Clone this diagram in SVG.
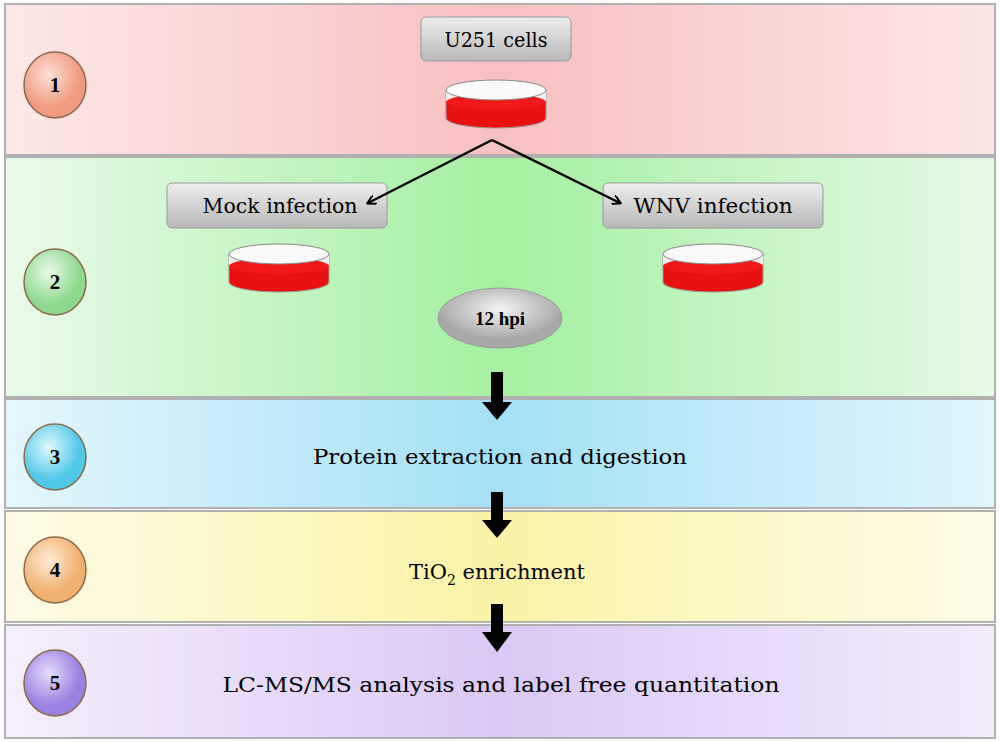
<svg xmlns="http://www.w3.org/2000/svg" width="1000" height="742" viewBox="0 0 1000 742">
<defs>
<linearGradient id="g1" x1="0" x2="1"><stop offset="0" stop-color="#fde8e8"/><stop offset="0.5" stop-color="#f8c0c0"/><stop offset="1" stop-color="#fde6e6"/></linearGradient>
<linearGradient id="g2" x1="0" x2="1"><stop offset="0" stop-color="#eafbea"/><stop offset="0.5" stop-color="#a4f0a0"/><stop offset="1" stop-color="#e6fae6"/></linearGradient>
<linearGradient id="g3" x1="0" x2="1"><stop offset="0" stop-color="#e4f7fd"/><stop offset="0.5" stop-color="#a4e0f6"/><stop offset="1" stop-color="#e0f6fd"/></linearGradient>
<linearGradient id="g4" x1="0" x2="1"><stop offset="0" stop-color="#fdfbe6"/><stop offset="0.5" stop-color="#fbf3a6"/><stop offset="1" stop-color="#fdfbe8"/></linearGradient>
<linearGradient id="g5" x1="0" x2="1"><stop offset="0" stop-color="#f6effd"/><stop offset="0.5" stop-color="#dbc8f6"/><stop offset="1" stop-color="#f2ecfd"/></linearGradient>
<linearGradient id="box" x1="0" y1="0" x2="0" y2="1"><stop offset="0" stop-color="#eeeeee"/><stop offset="1" stop-color="#b8b8b8"/></linearGradient>
<radialGradient id="c1" cx="0.4" cy="0.35"><stop offset="0" stop-color="#fde0d6"/><stop offset="1" stop-color="#f09a80"/></radialGradient>
<radialGradient id="c2" cx="0.4" cy="0.35"><stop offset="0" stop-color="#e8fbe8"/><stop offset="1" stop-color="#8ed88e"/></radialGradient>
<radialGradient id="c3" cx="0.4" cy="0.35"><stop offset="0" stop-color="#e0f8fd"/><stop offset="1" stop-color="#50c8e8"/></radialGradient>
<radialGradient id="c4" cx="0.4" cy="0.35"><stop offset="0" stop-color="#fdecd6"/><stop offset="1" stop-color="#f0b070"/></radialGradient>
<radialGradient id="c5" cx="0.4" cy="0.35"><stop offset="0" stop-color="#e6dcfb"/><stop offset="1" stop-color="#9a80e0"/></radialGradient>
<radialGradient id="hp" cx="0.5" cy="0.35"><stop offset="0" stop-color="#f4f4f4"/><stop offset="1" stop-color="#a8a8a8"/></radialGradient>
<marker id="ah" markerWidth="10" markerHeight="10" refX="8" refY="5" orient="auto" markerUnits="userSpaceOnUse"><path d="M0,0 L9,5 L0,10" fill="none" stroke="#000" stroke-width="2"/></marker>
<g id="dish">
<path d="M-50,0 L-50,28 A50,10 0 0 0 50,28 L50,0" fill="#e81010" stroke="#999" stroke-width="1"/>
<rect x="-50" y="0" width="100" height="12" fill="#f0f0f0"/>
<ellipse cx="0" cy="12" rx="50" ry="8" fill="#f01818"/>
<ellipse cx="0" cy="0" rx="50" ry="10" fill="#fafafa" stroke="#888" stroke-width="1"/>
</g>
</defs>
<style>
.band{stroke:#b0b0b0;stroke-width:2}
.bx{fill:url(#box);stroke:#999;stroke-width:1}
.t{font-family:"DejaVu Serif","Liberation Serif",serif;font-size:21px;fill:#000;text-anchor:middle}
.n{font-family:"Liberation Serif","DejaVu Serif",serif;font-size:21px;font-weight:bold;fill:#000;text-anchor:middle}
.circ{stroke:#8a6a4a;stroke-width:1.5}
</style>
<rect width="1000" height="742" fill="#fff"/>
<g id="band1"><rect class="band" x="5" y="4" width="990" height="151" fill="url(#g1)"/></g>
<g id="band2"><rect class="band" x="5" y="157" width="990" height="240" fill="url(#g2)"/></g>
<g id="band3"><rect class="band" x="5" y="399" width="990" height="109" fill="url(#g3)"/></g>
<g id="band4"><rect class="band" x="5" y="511" width="990" height="111" fill="url(#g4)"/></g>
<g id="band5"><rect class="band" x="5" y="625" width="990" height="113" fill="url(#g5)"/></g>
<g id="step1"><ellipse class="circ" cx="55" cy="85" rx="31" ry="33" fill="url(#c1)"/><text class="n" x="55" y="92">1</text></g>
<g id="step2"><ellipse class="circ" cx="55" cy="282" rx="31" ry="33" fill="url(#c2)"/><text class="n" x="55" y="289">2</text></g>
<g id="step3"><ellipse class="circ" cx="55" cy="457" rx="31" ry="33" fill="url(#c3)"/><text class="n" x="55" y="464">3</text></g>
<g id="step4"><ellipse class="circ" cx="55" cy="570" rx="31" ry="33" fill="url(#c4)"/><text class="n" x="55" y="577">4</text></g>
<g id="step5"><ellipse class="circ" cx="55" cy="683" rx="31" ry="33" fill="url(#c5)"/><text class="n" x="55" y="690">5</text></g>
<g id="u251"><rect class="bx" x="421" y="17" width="150" height="44" rx="5"/><text class="t" x="496" y="47" textLength="103" lengthAdjust="spacingAndGlyphs">U251 cells</text></g>
<g id="dish1"><use href="#dish" x="496" y="90"/></g>
<g id="mock"><rect class="bx" x="167" y="183" width="220" height="45" rx="5"/><text class="t" x="280" y="213" textLength="155" lengthAdjust="spacingAndGlyphs">Mock infection</text></g>
<g id="wnv"><rect class="bx" x="603" y="183" width="220" height="45" rx="5"/><text class="t" x="713" y="213" textLength="159" lengthAdjust="spacingAndGlyphs">WNV infection</text></g>
<g id="dish2"><use href="#dish" x="279" y="254"/></g>
<g id="dish3"><use href="#dish" x="713" y="254"/></g>
<g id="hpi"><ellipse cx="500" cy="318" rx="62" ry="30" fill="url(#hp)" stroke="#999"/><text class="n" x="500" y="325" style="font-size:19px">12 hpi</text></g>
<g id="s3"><text class="t" x="500" y="464" textLength="374" lengthAdjust="spacingAndGlyphs">Protein extraction and digestion</text></g>
<g id="s4"><text class="t" x="497" y="579">TiO<tspan font-size="14" dy="6">2</tspan><tspan dy="-6"> enrichment</tspan></text></g>
<g id="s5"><text class="t" x="501" y="692" textLength="557" lengthAdjust="spacingAndGlyphs">LC-MS/MS analysis and label free quantitation</text></g>
<g id="connectors" fill="#000">
<path d="M492,140 L368,203" stroke="#000" stroke-width="2.5" fill="none" marker-end="url(#ah)"/>
<path d="M492,140 L620,203" stroke="#000" stroke-width="2.5" fill="none" marker-end="url(#ah)"/>
<path d="M491,372 h12 v30 h9 l-15,18 l-15,-18 h9 z"/>
<path d="M491,492 h12 v28 h9 l-15,18 l-15,-18 h9 z"/>
<path d="M491,604 h12 v28 h9 l-15,20 l-15,-20 h9 z"/>
</g>
</svg>
